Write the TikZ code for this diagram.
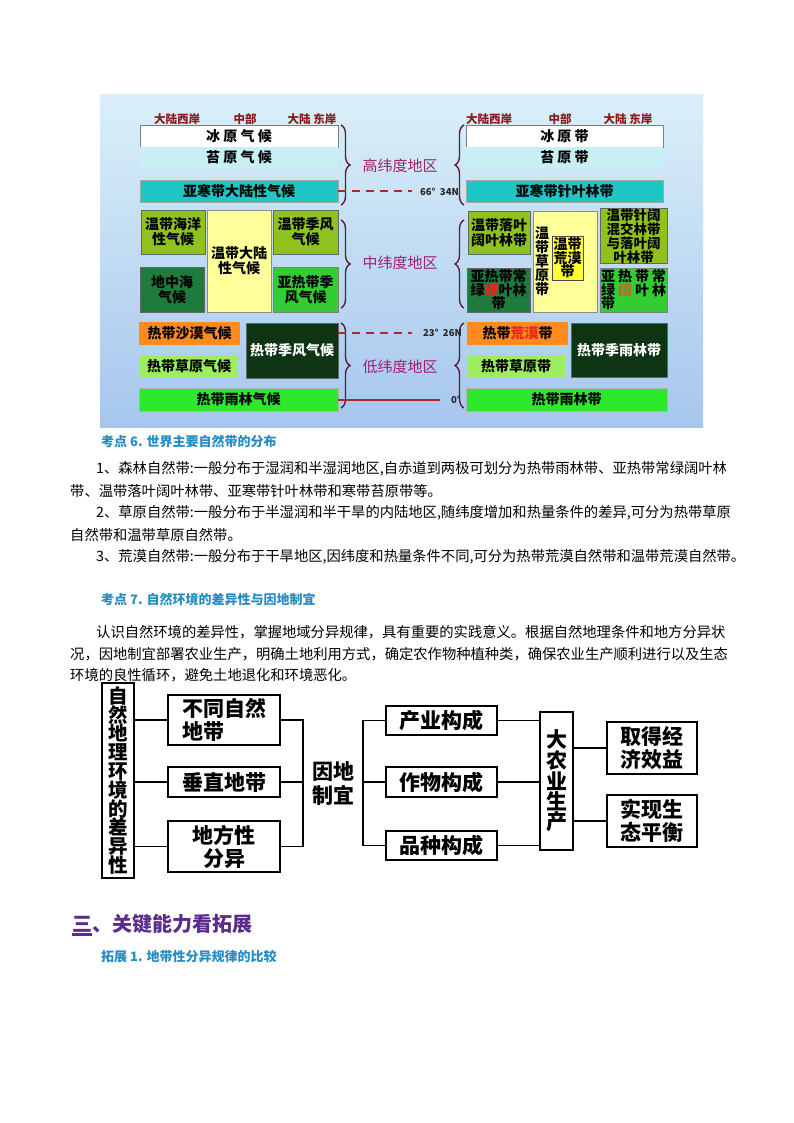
\documentclass[tikz,border=0pt]{standalone}
\usepackage{fontspec}
\setmainfont{Noto Sans CJK SC}
\usepackage{xcolor}
\usetikzlibrary{decorations.pathreplacing, positioning, calc}

\definecolor{bgtop}{HTML}{DAEFF8}
\definecolor{bgbot}{HTML}{A6C6EE}
\definecolor{cIce}{HTML}{FFFFFF}
\definecolor{cTun}{HTML}{C6F0F3}
\definecolor{cTeal}{HTML}{1EC6C6}
\definecolor{cYG}{HTML}{8FC21F}
\definecolor{cLY}{HTML}{FFFF99}
\definecolor{cYel}{HTML}{FFFF33}
\definecolor{cDG}{HTML}{1F7A3E}
\definecolor{cBG}{HTML}{33CC33}
\definecolor{cOr}{HTML}{FF8A1E}
\definecolor{cLG}{HTML}{9CEE5E}
\definecolor{cVDG}{HTML}{0E3414}
\definecolor{cRG}{HTML}{2EE82E}
\definecolor{capred}{HTML}{8B1A1A}
\definecolor{regpurple}{HTML}{A0226E}
\definecolor{brpurple}{HTML}{5A1E3C}
\definecolor{latred}{HTML}{B0262C}
\definecolor{kdblue}{HTML}{268CC4}
\definecolor{secpurple}{HTML}{5B2C8E}
\definecolor{hardred}{HTML}{E8261E}
\definecolor{broadbr}{HTML}{C8642A}

\newcommand{\thickul}[1]{{\setbox0\hbox{#1}\rlap{\rule[-4pt]{\wd0}{2.4pt}}\box0}}

\tikzset{every node/.append style={align=center, inner sep=0pt}}

\begin{document}
\begin{tikzpicture}[
    x=1pt, y=-1pt,
    zb/.style={rectangle, inner sep=0pt, font=\bfseries\fontsize{14}{15}\selectfont},
    ice/.style={fill=cIce, draw=black!50, line width=0.6pt},
    tundra/.style={fill=cTun},
    taiga/.style={fill=cTeal, draw=black!35, line width=0.5pt},
    ygreen/.style={fill=cYG, draw=black!60, line width=0.6pt},
    lyellow/.style={fill=cLY, draw=black!45, line width=0.6pt},
    yel/.style={fill=cYel, draw=black!70, line width=0.6pt},
    dgreen/.style={fill=cDG, draw=black!60, line width=0.6pt},
    bgreen/.style={fill=cBG, draw=black!50, line width=0.6pt},
    orng/.style={fill=cOr},
    lgreen/.style={fill=cLG},
    vdgreen/.style={fill=cVDG, text=white, draw=black!60, line width=0.6pt},
    rgreen/.style={fill=cRG, draw=black!30, line width=0.5pt},
    hd/.style={font=\bfseries\fontsize{11.5}{12}\selectfont, text=capred},
    reg/.style={font=\fontsize{15}{16}\selectfont, text=regpurple},
    lat/.style={font=\bfseries\fontsize{9.5}{10}\selectfont, text=black!85, anchor=east},
    br/.style={decorate, decoration={brace, amplitude=9pt}, line width=1.4pt, draw=brpurple},
    latline/.style={line width=1.8pt, draw=latred},
    body/.style={anchor=west, font=\fontsize{14.3}{16}\selectfont},
    kd/.style={anchor=west, font=\bfseries\fontsize{13}{14}\selectfont, text=kdblue},
    fbox/.style={draw, line width=1.6pt, font=\bfseries\fontsize{21}{23}\selectfont},
    cn/.style={line width=1.5pt}
]
\useasboundingbox[fill=white] (0,0) rectangle (794,1123);

% ===== PICTURE BACKGROUND =====
\shade[top color=bgtop, bottom color=bgbot] (100,95) rectangle (703,427);

% ===== CLIMATE (left) =====
\node[hd] (lw) at (177,119) {大陆西岸};
\node[hd] (lm) at (245,119) {中部};
\node[hd] (le) at (312,119) {大陆 东岸};
\node[zb, ice, minimum width=198pt, minimum height=22pt] (ice) at (239,136) {冰 原 气 候};
\node[zb, tundra, minimum width=198pt, minimum height=21pt] (tun) at (239,157.5) {苔 原 气 候};
\node[zb, taiga, minimum width=198pt, minimum height=22pt] (tai) at (239,191) {亚寒带大陆性气候};
\node[zb, ygreen, minimum width=64pt, minimum height=44pt] (tmar) at (173,232) {温带海洋\\性气候};
\node[zb, lyellow, minimum width=64pt, minimum height=102pt] (tcon) at (239,261) {温带大陆\\性气候};
\node[zb, ygreen, minimum width=65pt, minimum height=44pt] (tmon) at (305.5,232) {温带季风\\气候};
\node[zb, dgreen, minimum width=64pt, minimum height=45pt] (medi) at (172,289.5) {地中海\\气候};
\node[zb, bgreen, minimum width=65pt, minimum height=45pt] (smon) at (305.5,289.5) {亚热带季\\风气候};
\node[zb, orng, minimum width=101pt, minimum height=23pt] (hdes) at (189.5,333.5) {热带沙漠气候};
\node[zb, lgreen, minimum width=98pt, minimum height=21pt] (hsav) at (189,366.5) {热带草原气候};
\node[zb, vdgreen, minimum width=92pt, minimum height=55pt] (hmon) at (292,350.5) {热带季风气候};
\node[zb, rgreen, minimum width=199pt, minimum height=23pt] (hrain) at (238.5,399.5) {热带雨林气候};

% ===== NATURAL ZONES (right) =====
\node[hd] (rw) at (489,119) {大陆西岸};
\node[hd] (rm) at (560,119) {中部};
\node[hd] (re) at (628,119) {大陆 东岸};
\node[zb, ice, minimum width=197pt, minimum height=22pt] (ice2) at (564.5,136) {冰 原 带};
\node[zb, tundra, minimum width=197pt, minimum height=21pt] (tun2) at (564.5,157.5) {苔 原 带};
\node[zb, taiga, minimum width=197pt, minimum height=22pt] (tai2) at (564.5,191) {亚寒带针叶林带};
\node[zb, ygreen, minimum width=62pt, minimum height=43pt] (tdec) at (499,232.5) {温带落叶\\阔叶林带};
\node[zb, lyellow, minimum width=64pt, minimum height=101pt, text width=60pt, align=left,
      font=\bfseries\fontsize{14}{14}\selectfont] (tste) at (565,261.5) {温\\带\\草\\原\\带};
\node[zb, yel, minimum width=31pt, minimum height=44pt,
      font=\bfseries\fontsize{14}{13.5}\selectfont] (tdes) at (567.5,258) {温带\\荒漠\\带};
\node[zb, ygreen, minimum width=67pt, minimum height=50pt,
      font=\bfseries\fontsize{13.5}{12.5}\selectfont] (tmix) at (633.5,236) {温带针阔\\混交林带\\与落叶阔\\叶林带};
\node[zb, dgreen, minimum width=63pt, minimum height=44pt,
      font=\bfseries\fontsize{14}{13.5}\selectfont] (scl) at (498.5,290)
      {亚热带常\\绿\textcolor{hardred}{硬}叶林\\带};
\node[zb, bgreen, minimum width=67pt, minimum height=44pt, align=left,
      font=\bfseries\fontsize{14}{13.5}\selectfont] (sbl) at (633.5,290)
      {亚\hspace{3pt}热\hspace{3pt}带\hspace{3pt}常\\绿\hspace{3pt}\textcolor{broadbr}{阔}\hspace{3pt}叶\hspace{3pt}林\\带};
\node[zb, orng, minimum width=101pt, minimum height=23pt] (hdes2) at (517.5,333.5)
      {热带\textcolor{hardred}{荒漠}带};
\node[zb, lgreen, minimum width=98pt, minimum height=21pt] (hsav2) at (516,366.5) {热带草原带};
\node[zb, vdgreen, minimum width=96pt, minimum height=54pt] (hmr) at (619,350) {热带季雨林带};
\node[zb, rgreen, minimum width=201pt, minimum height=23pt] (hrain2) at (566.5,399.5) {热带雨林带};

% ===== LATITUDE BELTS (middle) =====
\node[reg] (hi) at (400,166) {高纬度地区};
\node[reg] (mid) at (400,263) {中纬度地区};
\node[reg] (low) at (400,367) {低纬度地区};
\draw[br] (341,125) -- (341,205);
\draw[br] (341,220) -- (341,308);
\draw[br] (341,323) -- (341,408);
\draw[br] (464,205) -- (464,125);
\draw[br] (464,308) -- (464,220);
\draw[br] (464,408) -- (464,323);
\node[lat] (l66) at (459,192) {66°\ \ 34N};
\node[lat] (l23) at (462,333) {23°\ \ 26N};
\node[lat] (l0) at (461,400) {0°};
\draw[latline, dash pattern=on 8pt off 6pt] (tai.east) -- (tai.east -| 412,0);
\draw[latline, dash pattern=on 8pt off 6pt] (hmon.east |- l23) -- (412,333);
\draw[latline] (hrain.east |- l0) -- (440,400);

% ===== TEXT: KAODIAN 6 =====
\node[kd] (k6) at (101,442) {考点 6. 世界主要自然带的分布};
\node[body] (p1) at (96,469) {1、森林自然带:一般分布于湿润和半湿润地区,自赤道到两极可划分为热带雨林带、亚热带常绿阔叶林};
\node[body] (p2) at (70,491) {带、温带落叶阔叶林带、亚寒带针叶林带和寒带苔原带等。};
\node[body] (p3) at (96,513) {2、草原自然带:一般分布于半湿润和半干旱的内陆地区,随纬度增加和热量条件的差异,可分为热带草原};
\node[body] (p4) at (70,535) {自然带和温带草原自然带。};
\node[body] (p5) at (96,557) {3、荒漠自然带:一般分布于干旱地区,因纬度和热量条件不同,可分为热带荒漠自然带和温带荒漠自然带。};

% ===== TEXT: KAODIAN 7 =====
\node[kd] (k7) at (101,600) {考点 7. 自然环境的差异性与因地制宜};
\node[body] (q1) at (96,632) {认识自然环境的差异性，掌握地域分异规律，具有重要的实践意义。根据自然地理条件和地方分异状};
\node[body] (q2) at (70,654) {况，因地制宜部署农业生产，明确土地利用方式，确定农作物种植种类，确保农业生产顺利进行以及生态};
\node[body] (q3) at (70,675) {环境的良性循环，避免土地退化和环境恶化。};

% ===== FLOW CHART =====
\node[fbox, minimum width=32pt, minimum height=195pt, font=\bfseries\fontsize{19.5}{18.8}\selectfont]
    (env) at (118,780.5) {自\\然\\地\\理\\环\\境\\的\\差\\异\\性};
\node[fbox, minimum width=112pt, minimum height=50pt, align=left] (zone) at (224,720) {不同自然\\地带};
\node[fbox, minimum width=112pt, minimum height=30pt] (vert) at (224,782) {垂直地带};
\node[fbox, minimum width=112pt, minimum height=51pt] (locl) at (224,846.5) {地方性\\分异};
\node[font=\bfseries\fontsize{21}{24}\selectfont] (yd) at (333,784) {因地\\制宜};
\node[fbox, minimum width=111pt, minimum height=29pt] (ind) at (441.5,720.5) {产业构成};
\node[fbox, minimum width=111pt, minimum height=30pt] (crop) at (441.5,782) {作物构成};
\node[fbox, minimum width=111pt, minimum height=29pt] (var) at (441.5,845.5) {品种构成};
\node[fbox, minimum width=33pt, minimum height=138pt, font=\bfseries\fontsize{21}{19}\selectfont]
    (agri) at (556.5,781) {大\\农\\业\\生\\产};
\node[fbox, minimum width=90pt, minimum height=52pt] (econ) at (652,748) {取得经\\济效益};
\node[fbox, minimum width=90pt, minimum height=52pt] (ecol) at (652,821) {实现生\\态平衡};
\coordinate (jl) at (303,782);
\coordinate (jr) at (363,782);
\draw[cn] (env.east |- zone.west) -- (zone.west);
\draw[cn] (env.east |- vert.west) -- (vert.west);
\draw[cn] (env.east |- locl.west) -- (locl.west);
\draw[cn] (zone.east) -| (jl) |- (locl.east);
\draw[cn] (vert.east) -- (jl);
\draw[cn] (ind.west) -| (jr) |- (var.west);
\draw[cn] (jr) -- (crop.west);
\draw[cn] (ind.east) -- (ind.east -| agri.west);
\draw[cn] (crop.east) -- (crop.east -| agri.west);
\draw[cn] (var.east) -- (var.east -| agri.west);
\draw[cn] (agri.east |- econ.west) -- (econ.west);
\draw[cn] (agri.east |- ecol.west) -- (ecol.west);

% ===== SECTION 3 =====
\node[anchor=west, font=\bfseries\fontsize{20}{22}\selectfont, text=secpurple] (s3) at (72,925)
    {\thickul{三}、关键能力看拓展};
\node[kd] (t1) at (101,957) {拓展 1. 地带性分异规律的比较};
\end{tikzpicture}
\end{document}
